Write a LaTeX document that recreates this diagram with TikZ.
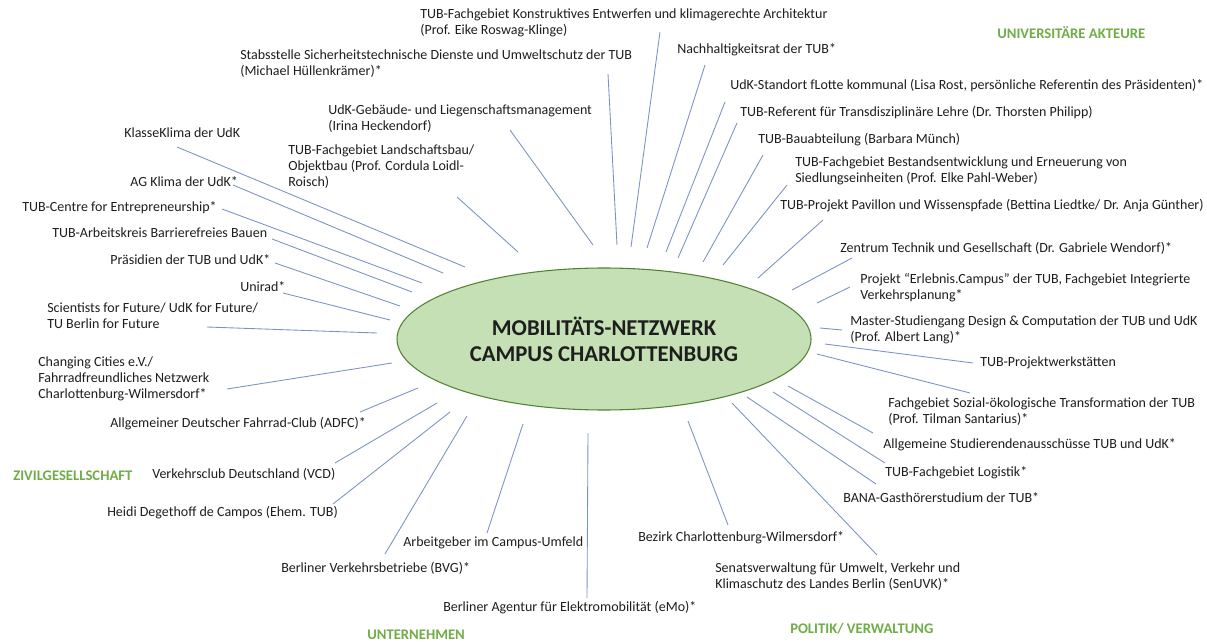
\documentclass[tikz,border=0pt]{standalone}
\usepackage{fontspec}
\setmainfont{Carlito}
\usepackage{xcolor}
\usetikzlibrary{shapes.geometric}
\definecolor{hubfill}{RGB}{197,224,180}
\definecolor{hubline}{RGB}{84,130,53}
\definecolor{groupgreen}{RGB}{112,173,71}
\definecolor{spoke}{RGB}{122,147,194}
\definecolor{ink}{RGB}{30,30,30}

\begin{document}
\begin{tikzpicture}[x=0.75pt, y=-0.75pt,
  actor/.style={anchor=west, inner sep=0pt, align=left, text=ink, font=\fontsize{10.5}{12}\selectfont},
  group/.style={anchor=west, inner sep=0pt, text=groupgreen, font=\fontsize{11}{13}\selectfont\bfseries},
  link/.style={spoke, line width=0.65pt}]
  \useasboundingbox (0,0) rectangle (1207,642);
  \fill[white] (0,0) rectangle (1207,642);

  % hub
  \node[ellipse, draw=hubline, fill=hubfill, line width=0.8pt, inner sep=0pt,
        minimum width=310.5pt, minimum height=106.5pt, align=center, text=ink,
        font=\fontsize{17}{19.5}\selectfont\bfseries] (hub) at (604,339)
        {MOBILITÄTS-NETZWERK\\CAMPUS CHARLOTTENBURG};

  % groups
  \node[group] (uni)   at (997,33)  {UNIVERSITÄRE AKTEURE};
  \node[group] (zivil) at (13,476)  {ZIVILGESELLSCHAFT};
  \node[group] (firma) at (367,635) {UNTERNEHMEN};
  \node[group] (polit) at (790,629) {POLITIK/ VERWALTUNG};

  % universitaere akteure
  \node[actor] (konstr)     at (420,23)  {TUB-Fachgebiet Konstruktives Entwerfen und klimagerechte Architektur\\(Prof. Eike Roswag-Klinge)};
  \node[actor] (stabs)      at (240,64)  {Stabsstelle Sicherheitstechnische Dienste und Umweltschutz der TUB\\(Michael Hüllenkrämer)*};
  \node[actor] (gebaeude)   at (328,119) {UdK-Gebäude- und Liegenschaftsmanagement\\(Irina Heckendorf)};
  \node[actor] (klasse)     at (124,133) {KlasseKlima der UdK};
  \node[actor] (landschaft) at (288,167) {TUB-Fachgebiet Landschaftsbau/\\Objektbau (Prof. Cordula Loidl-\\Roisch)};
  \node[actor] (agklima)    at (130,182) {AG Klima der UdK*};
  \node[actor] (centre)     at (22,208)  {TUB-Centre for Entrepreneurship*};
  \node[actor] (barriere)   at (52,233)  {TUB-Arbeitskreis Barrierefreies Bauen};
  \node[actor] (praesidien) at (110,260) {Präsidien der TUB und UdK*};
  \node[actor] (unirad)     at (240,287) {Unirad*};
  \node[actor] (future)     at (47,316)  {Scientists for Future/ UdK for Future/\\TU Berlin for Future};
  \node[actor] (nachhalt)   at (677,50)  {Nachhaltigkeitsrat der TUB*};
  \node[actor] (standort)   at (730,86)  {UdK-Standort fLotte kommunal (Lisa Rost, persönliche Referentin des Präsidenten)*};
  \node[actor] (referent)   at (740,113) {TUB-Referent für Transdisziplinäre Lehre (Dr. Thorsten Philipp)};
  \node[actor] (bauab)      at (758,140) {TUB-Bauabteilung (Barbara Münch)};
  \node[actor] (bestand)    at (795,171) {TUB-Fachgebiet Bestandsentwicklung und Erneuerung von\\Siedlungseinheiten (Prof. Elke Pahl-Weber)};
  \node[actor] (pavillon)   at (780,206) {TUB-Projekt Pavillon und Wissenspfade (Bettina Liedtke/ Dr. Anja Günther)};
  \node[actor] (zentrum)    at (840,248) {Zentrum Technik und Gesellschaft (Dr. Gabriele Wendorf)*};
  \node[actor] (erlebnis)   at (860,288) {Projekt “Erlebnis.Campus” der TUB, Fachgebiet Integrierte\\Verkehrsplanung*};
  \node[actor] (master)     at (850,330) {Master-Studiengang Design \& Computation der TUB und UdK\\(Prof. Albert Lang)*};
  \node[actor] (werkstatt)  at (980,363) {TUB-Projektwerkstätten};
  \node[actor] (sozial)     at (888,412) {Fachgebiet Sozial-ökologische Transformation der TUB\\(Prof. Tilman Santarius)*};
  \node[actor] (asta)       at (883,445) {Allgemeine Studierendenausschüsse TUB und UdK*};
  \node[actor] (logistik)   at (885,473) {TUB-Fachgebiet Logistik*};
  \node[actor] (bana)       at (843,498) {BANA-Gasthörerstudium der TUB*};

  % zivilgesellschaft
  \node[actor] (cities)     at (38,379)  {Changing Cities e.V./\\Fahrradfreundliches Netzwerk\\Charlottenburg-Wilmersdorf*};
  \node[actor] (adfc)       at (110,424) {Allgemeiner Deutscher Fahrrad-Club (ADFC)*};
  \node[actor] (vcd)        at (152,474) {Verkehrsclub Deutschland (VCD)};
  \node[actor] (heidi)      at (107,513) {Heidi Degethoff de Campos (Ehem. TUB)};

  % unternehmen
  \node[actor] (arbeitgeber) at (403,543) {Arbeitgeber im Campus-Umfeld};
  \node[actor] (bvg)         at (281,568) {Berliner Verkehrsbetriebe (BVG)*};
  \node[actor] (emo)         at (443,608) {Berliner Agentur für Elektromobilität (eMo)*};

  % politik/ verwaltung
  \node[actor] (bezirk)     at (638,538) {Bezirk Charlottenburg-Wilmersdorf*};
  \node[actor] (senat)      at (715,577) {Senatsverwaltung für Umwelt, Verkehr und\\Klimaschutz des Landes Berlin (SenUVK)*};

  % spokes: label end -> hub end
  \foreach \n/\ax/\ay/\bx/\by in {
      konstr/660/32/631/247, stabs/608/74/617/245, gebaeude/510/130/593/245,
      klasse/177/147/465/267, landschaft/457/197/518/252, agklima/233/185/443/273,
      centre/222/209/422/283, barriere/272/239/412/292, praesidien/275/263/400/306,
      unirad/283/293/390/320, future/207/327/377/333, cities/227/389/392/363,
      adfc/360/412/418/388, vcd/335/463/437/403, heidi/333/504/450/412,
      arbeitgeber/487/533/523/424, bvg/385/554/467/416, emo/587/598/588/433,
      bezirk/728/525/688/421, senat/877/555/732/403, bana/876/484/747/397,
      logistik/885/463/773/392, asta/873/433/788/386, sozial/970/393/817/354,
      werkstatt/973/363/825/344, master/842/330/820/328, erlebnis/850/287/817/303,
      zentrum/852/258/792/290, pavillon/823/220/758/278, bestand/787/185/723/265,
      bauab/763/155/703/262, referent/737/123/678/258, standort/725/102/666/252,
      nachhalt/705/65/647/248} {
    \coordinate (\n-a) at (\ax,\ay);
    \coordinate (\n-b) at (\bx,\by);
    \draw[link] (\n-a) -- (\n-b);
  }
\end{tikzpicture}
\end{document}
